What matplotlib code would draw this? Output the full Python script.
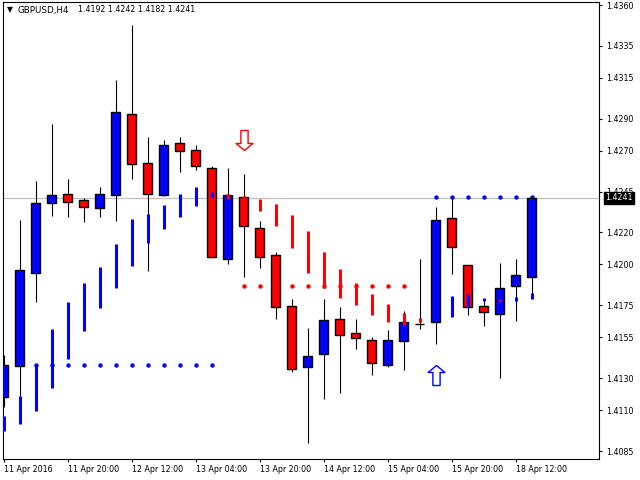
import numpy as np
import matplotlib
matplotlib.use("Agg")
import matplotlib.pyplot as plt
from matplotlib.path import Path

# GBPUSD H4 candles
opens = [1.41180, 1.41372, 1.41949, 1.42381, 1.42433, 1.42396, 1.42346, 1.42427,
         1.42926, 1.42624, 1.42427, 1.42747, 1.42704, 1.42593, 1.42032, 1.42414,
         1.42223, 1.42057, 1.41742, 1.41366, 1.41446, 1.41662, 1.41576, 1.41533,
         1.41382, 1.41526, 1.41631, 1.41644, 1.42285, 1.41995, 1.41742, 1.41693,
         1.41866, 1.41920]
highs = [1.41445, 1.42274, 1.42515, 1.42866, 1.42527, 1.42410, 1.42478, 1.43138,
         1.43477, 1.42786, 1.42768, 1.42786, 1.42737, 1.42607, 1.42595, 1.42558,
         1.42268, 1.42075, 1.41787, 1.41607, 1.41787, 1.41738, 1.41664, 1.41551,
         1.41596, 1.41713, 1.42034, 1.42354, 1.42410, 1.41998, 1.41775, 1.42009,
         1.42034, 1.42420]
lows = [1.41120, 1.41189, 1.41771, 1.42299, 1.42295, 1.42264, 1.42295, 1.42270,
        1.42525, 1.41962, 1.42424, 1.42572, 1.42584, 1.42040, 1.42005, 1.41925,
        1.41980, 1.41662, 1.41339, 1.40901, 1.41172, 1.41209, 1.41481, 1.41320,
        1.41370, 1.41351, 1.41604, 1.41512, 1.41943, 1.41690, 1.41623, 1.41302,
        1.41653, 1.41820]
closes = [1.41383, 1.41964, 1.42377, 1.42427, 1.42383, 1.42353, 1.42433, 1.42938,
          1.42618, 1.42433, 1.42735, 1.42698, 1.42605, 1.42044, 1.42427, 1.42236,
          1.42044, 1.41736, 1.41354, 1.41434, 1.41656, 1.41563, 1.41545, 1.41391,
          1.41533, 1.41644, 1.41631, 1.42272, 1.42106, 1.41736, 1.41705, 1.41853,
          1.41933, 1.42410]

# trend indicator bars (top, bottom, direction)
ind_top = [1.41066, 1.41189, 1.41383, 1.41602, 1.41769, 1.41886, 1.41985, 1.42126,
           1.42281, 1.42311, 1.42367, 1.42435, 1.42478, 1.42447, 1.42433, 1.42422,
           1.42404, 1.42373, 1.42305, 1.42206, 1.42077, 1.41972, 1.41886, 1.41818,
           1.41756, 1.41701, 1.41670, np.nan, 1.41806, 1.41818, 1.41793, 1.41787,
           1.41800, 1.41824]
ind_bot = [1.40975, 1.41016, 1.41097, 1.41238, 1.41419, 1.41592, 1.41734, 1.41857,
           1.41993, 1.42134, 1.42221, 1.42295, 1.42362, 1.42416, 1.42406, 1.42406,
           1.42330, 1.42239, 1.42104, 1.41949, 1.41857, 1.41793, 1.41750, 1.41689,
           1.41645, 1.41629, 1.41645, np.nan, 1.41676, 1.41740, 1.41775, 1.41775,
           1.41775, 1.41787]
ind_dir = [1]*14 + [-1]*13 + [1, 1, 1, 1, -1, 1, 1]

# dotted levels
lvl_start = [2, 15, 27]
lvl_end = [13, 25, 33]
lvl_price = [1.41383, 1.41866, 1.42415]
lvl_dir = [1, -1, 1]

# signal arrows
arrow_idx = [15, 27]
arrow_price = [1.42765, 1.41319]
arrow_dir = [-1, 1]

bid = 1.4241
ytick_vals = [1.4360, 1.4335, 1.4315, 1.4290, 1.4270, 1.4245, 1.4220,
              1.4200, 1.4175, 1.4155, 1.4130, 1.4110, 1.4085]
xtick_pos = [0, 4, 8, 12, 16, 20, 24, 28, 32]
xtick_labels = ["11 Apr 2016", "11 Apr 20:00", "12 Apr 12:00", "13 Apr 04:00",
                "13 Apr 20:00", "14 Apr 12:00", "15 Apr 04:00", "15 Apr 20:00",
                "18 Apr 12:00"]

BLUE = "#0000FF"
RED = "#FF0000"
plt.rcParams['font.family'] = ['DejaVu Sans']
FS = 6.3

fig = plt.figure(figsize=(6.4, 4.8), dpi=100)
ax = fig.add_axes([2.7/640, 21/480, (599-2.7)/640, 457/480])

x = np.arange(len(opens))
o = np.array(opens); c = np.array(closes)
h = np.array(highs); l = np.array(lows)
up = c >= o

# bid line
ax.axhline(bid, color="#C0C0C0", lw=0.9, zorder=1)

# level dots (under the candles)
for s, e, p, d in zip(lvl_start, lvl_end, lvl_price, lvl_dir):
    xs = np.arange(s, e + 1)
    ax.plot(xs, np.full(len(xs), p), "o", ms=3.2, mec="none",
            color=BLUE if d > 0 else RED, zorder=2)

# candles
ax.vlines(x, l, h, color="black", lw=0.8, zorder=3)
ax.bar(x, c - o, bottom=o, width=0.6, color=np.where(up, BLUE, RED),
       edgecolor="black", linewidth=1.0, zorder=4)

# indicator bars on top
it = np.array(ind_top); ib = np.array(ind_bot)
ok = ~np.isnan(it)
icol = [BLUE if d > 0 else RED for d in ind_dir]
ax.vlines(x[ok], ib[ok], it[ok], colors=[cc for cc, k in zip(icol, ok) if k],
          lw=2.2, zorder=5)

# hollow arrows
up_arrow = Path([(0, 0.5), (0.42, 0.15), (0.18, 0.15), (0.18, -0.5),
                 (-0.18, -0.5), (-0.18, 0.15), (-0.42, 0.15), (0, 0.5)], closed=True)
dn_arrow = Path(up_arrow.vertices * [1, -1], closed=True)
for xi, p, d in zip(arrow_idx, arrow_price, arrow_dir):
    ax.plot(xi, p, marker=up_arrow if d > 0 else dn_arrow, ms=14.4,
            mfc="white", mec=BLUE if d > 0 else RED, mew=1.0, zorder=6)

ax.set_xlim(-0.0625, 37.21)
ax.set_ylim(1.408007, 1.436185)

ax.yaxis.tick_right()
ax.set_yticks(ytick_vals)
ax.set_yticklabels(["%.4f" % v for v in ytick_vals], fontsize=FS,
                   fontstretch="condensed")
ax.set_xticks(xtick_pos)
ax.set_xticklabels(xtick_labels, fontsize=FS, ha="left", fontstretch="condensed")
ax.tick_params(axis="y", direction="out", length=2.5, width=0.8, pad=3)
ax.tick_params(axis="x", direction="out", length=2.5, width=0.8, pad=2)
for sp in ax.spines.values():
    sp.set_linewidth(0.8)

# price box on the right
ax.annotate("%.4f" % bid, xy=(1, bid), xycoords=("axes fraction", "data"),
            xytext=(6, 0), textcoords="offset pixels", va="center", ha="left",
            fontsize=FS, fontstretch="condensed", color="white", zorder=10,
            annotation_clip=False,
            bbox=dict(boxstyle="square,pad=0.12", fc="black", ec="black"))

# header
fig.text(7/640, 1 - 10/480, "\u25bc", fontsize=5.5, va="center", ha="left")
fig.text(18/640, 1 - 10/480, "GBPUSD,H4", fontsize=FS, va="center", ha="left")
fig.text(78/640, 1 - 10/480, "%.4f %.4f %.4f %.4f" %
         (opens[-1] + 0.00000, 1.4242, 1.4182, bid),
         fontsize=FS, va="center", ha="left", fontstretch="condensed")

fig.savefig("out.png", dpi=100, facecolor="white")
